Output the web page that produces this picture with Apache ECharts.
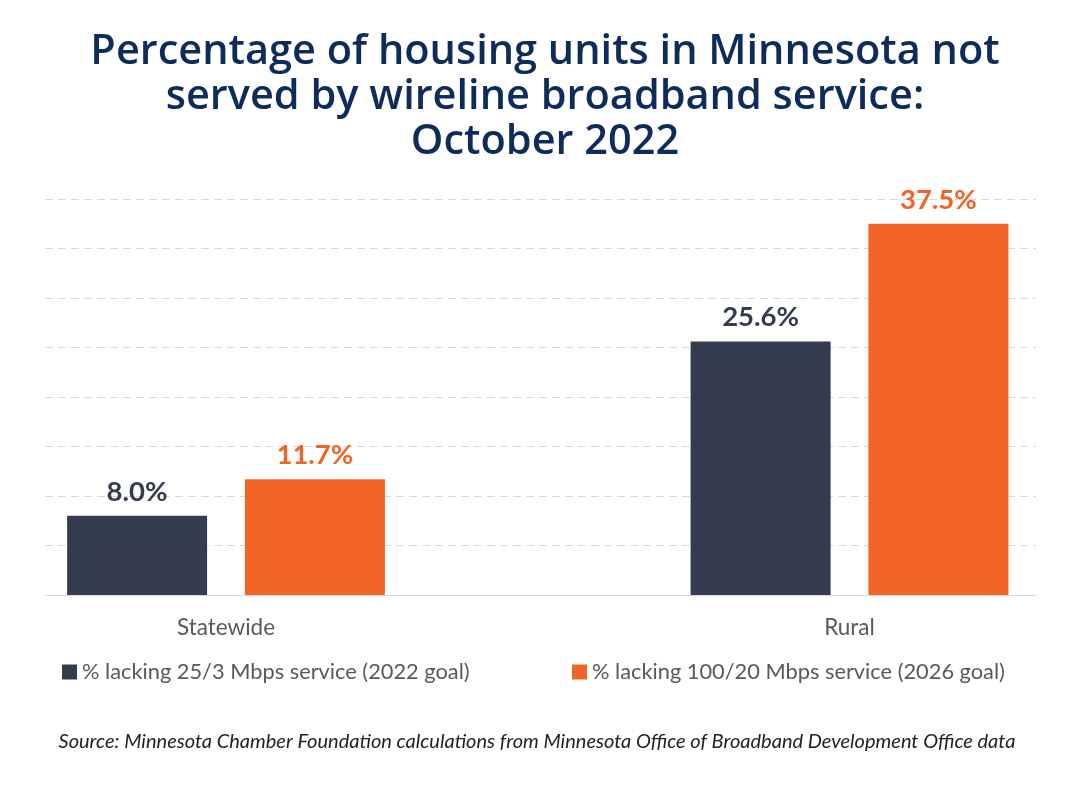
<!DOCTYPE html>
<html><head><meta charset="utf-8">
<script src="https://cdn.jsdelivr.net/npm/echarts@6/dist/echarts.min.js"></script>
<style>html,body{margin:0;padding:0;background:#fff}#c{width:1076px;height:803px}</style>
</head><body><div id="c"></div>
<script>
const categories = ['Statewide', 'Rural'];
const seriesNames = ['% lacking 25/3 Mbps service (2022 goal)', '% lacking 100/20 Mbps service (2026 goal)'];
const lacking25 = [8.0, 25.6];
const lacking100 = [11.7, 37.5];
const titleText = 'Percentage of housing units in Minnesota not\nserved by wireline broadband service:\nOctober 2022';
const sourceText = 'Source: Minnesota Chamber Foundation calculations from Minnesota Office of Broadband Development Office data';

const DARK = '#333d4f', ORANGE = '#f26425', GRAY = '#595959';
const chart = echarts.init(document.getElementById('c'));
const lbl = (c) => ({show: true, position: 'top', distance: 10, color: c, fontFamily: 'Lato', fontWeight: 'bold', fontSize: 27.5, formatter: p => p.value.toFixed(1) + '%'});
chart.setOption({
  animation: false,
  backgroundColor: '#fff',
  title: [
    {text: titleText, left: 540, top: 25, textAlign: 'center',
     textStyle: {color: '#0d2c5b', fontFamily: 'Open Sans', fontWeight: 600, fontSize: 41.5, lineHeight: 45, align: 'center'}},
    {text: sourceText, left: 532, textAlign: 'center', top: 727,
     textStyle: {color: '#222', fontFamily: 'Lato', fontStyle: 'italic', fontWeight: 'normal', fontSize: 20}}
  ],
  legend: [
    {data: [seriesNames[0]], left: 62, top: 661, padding: 0, itemWidth: 15, itemHeight: 15, icon: 'rect', itemGap: 7,
     textStyle: {color: GRAY, fontFamily: 'Lato', fontSize: 21.8}},
    {data: [seriesNames[1]], left: 572, top: 661, padding: 0, itemWidth: 15, itemHeight: 15, icon: 'rect', itemGap: 7,
     textStyle: {color: GRAY, fontFamily: 'Lato', fontSize: 21.8}}
  ],
  grid: [
    {left: 45, right: 40, top: 199, height: 396, outerBoundsMode: 'none'},
    {left: -85.75, width: 1247, top: 199, height: 396, outerBoundsMode: 'none', containLabel: false}
  ],
  xAxis: [
    {type: 'category', gridIndex: 0, data: categories, axisLine: {lineStyle: {color: '#d9d9d9'}}, axisTick: {show: false}, axisLabel: {show: false}},
    {type: 'category', gridIndex: 1, data: categories, axisLine: {show: false}, axisTick: {show: false},
     axisLabel: {color: GRAY, fontFamily: 'Lato', fontSize: 22.5, margin: 21}}
  ],
  yAxis: [
    {type: 'value', gridIndex: 0, min: 0, max: 40, interval: 5, axisLabel: {show: false}, axisLine: {show: false}, axisTick: {show: false},
     splitLine: {lineStyle: {color: '#d9d9d9', type: [8, 5]}}},
    {type: 'value', gridIndex: 1, min: 0, max: 40, interval: 5, show: false, splitLine: {show: false}}
  ],
  series: [
    {name: seriesNames[0], type: 'bar', xAxisIndex: 1, yAxisIndex: 1, data: lacking25, barWidth: 140, barGap: '27%',
     itemStyle: {color: DARK}, label: lbl(DARK)},
    {name: seriesNames[1], type: 'bar', xAxisIndex: 1, yAxisIndex: 1, data: lacking100, barWidth: 140, barGap: '27%',
     itemStyle: {color: ORANGE}, label: lbl(ORANGE)}
  ]
});
</script></body></html>
